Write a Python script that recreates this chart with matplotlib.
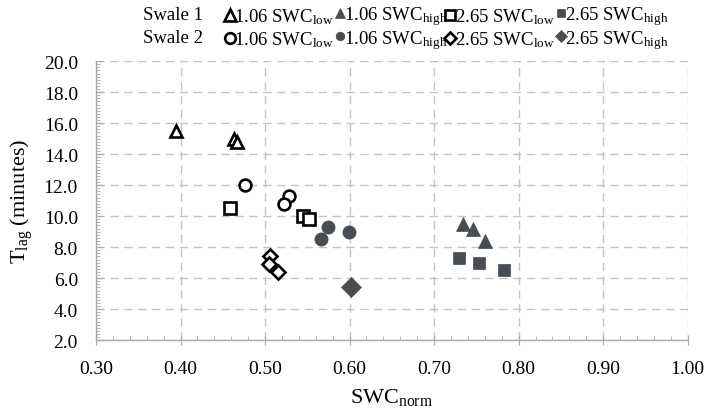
"""
Lag time against normalised soil water content for the two swales.
"""
from matplotlib import pyplot as plt
from matplotlib.ticker import MultipleLocator, FormatStrFormatter

plt.rcParams['font.family'] = ['Liberation Serif', 'DejaVu Serif']
plt.rcParams['mathtext.fontset'] = 'custom'
plt.rcParams['mathtext.rm'] = 'Liberation Serif'
plt.rcParams['mathtext.it'] = 'Liberation Serif:italic'

# swale 1
s1_low106_x = [0.395, 0.463, 0.467]
s1_low106_y = [15.5, 15.0, 14.8]
s1_high106_x = [0.734, 0.746, 0.760]
s1_high106_y = [9.5, 9.2, 8.4]
s1_low265_x = [0.459, 0.545, 0.552]
s1_low265_y = [10.5, 10.0, 9.8]
s1_high265_x = [0.729, 0.753, 0.783]
s1_high265_y = [7.3, 7.0, 6.5]
# swale 2
s2_low106_x = [0.476, 0.528, 0.523]
s2_low106_y = [12.0, 11.3, 10.8]
s2_high106_x = [0.575, 0.599, 0.566]
s2_high106_y = [9.3, 9.0, 8.5]
s2_low265_x = [0.506, 0.505, 0.515]
s2_low265_y = [7.4, 6.9, 6.4]
s2_high265_x = [0.602]
s2_high265_y = [5.4]

swales = ['Swale 1', 'Swale 2']
dark = '#474d54'
low = r'SWC$_{\mathrm{low}}$'
high = r'SWC$_{\mathrm{high}}$'

fig = plt.figure(figsize=(7.06, 4.14), dpi=100)
ax = fig.add_axes([0.136, 0.176, 0.838, 0.674])

open_kw = dict(ls='none', mfc='white', mec='black', mew=1.9)
fill_kw = dict(ls='none', mfc=dark, mec=dark, mew=0.5)

h1, = ax.plot(s1_low106_x, s1_low106_y, '^', ms=9, **open_kw)
h2, = ax.plot(s1_high106_x, s1_high106_y, '^', ms=10, **fill_kw)
h3, = ax.plot(s1_low265_x, s1_low265_y, 's', ms=8, **open_kw)
h4, = ax.plot(s1_high265_x, s1_high265_y, 's', ms=8.5, **fill_kw)
h5, = ax.plot(s2_low106_x, s2_low106_y, 'o', ms=8.5, **open_kw)
h6, = ax.plot(s2_high106_x, s2_high106_y, 'o', ms=9.5, **fill_kw)
h7, = ax.plot(s2_low265_x, s2_low265_y, 'D', ms=7, **open_kw)
h8, = ax.plot(s2_high265_x, s2_high265_y, 'D', ms=10, **fill_kw)

ax.set_xlim(0.30, 1.00)
ax.set_ylim(2.0, 20.0)
ax.xaxis.set_major_locator(MultipleLocator(0.1))
ax.xaxis.set_minor_locator(MultipleLocator(0.02))
ax.yaxis.set_major_locator(MultipleLocator(2.0))
ax.yaxis.set_minor_locator(MultipleLocator(0.2))
ax.xaxis.set_major_formatter(FormatStrFormatter('%.2f'))
ax.yaxis.set_major_formatter(FormatStrFormatter('%.1f'))

ax.grid(True, which='major', color='#c4c4c4', ls=(0, (6, 4)), lw=1.0)
ax.set_axisbelow(True)
for side in ['top', 'right']:
    ax.spines[side].set_visible(False)
for side in ['left', 'bottom']:
    ax.spines[side].set_color('#a9a9a9')
    ax.spines[side].set_linewidth(1.0)

ax.tick_params(axis='x', which='major', direction='inout', length=7, color='#a9a9a9',
               labelsize=14, pad=11)
ax.tick_params(axis='x', which='minor', direction='in', length=3, color='#a9a9a9')
ax.tick_params(axis='y', which='major', direction='in', length=5, color='#a9a9a9',
               labelsize=14, pad=13)
ax.tick_params(axis='y', which='minor', direction='in', length=3, color='#a9a9a9')

ax.set_xlabel(r'SWC$_{\mathrm{norm}}$', fontsize=16, labelpad=6)
ax.set_ylabel(r'T$_{\mathrm{lag}}$ (minutes)', fontsize=16, labelpad=6)

# legend: one row per swale, four keys per row (open keys bold, filled keys small)
rows_y = [0.959, 0.903]
cols_x = [0.320, 0.476, 0.632, 0.789]
scales = [0.9, 0.65, 0.9, 0.65]
rows = [[(h1, '1.06 ' + low), (h2, '1.06 ' + high), (h3, '2.65 ' + low), (h4, '2.65 ' + high)],
        [(h5, '1.06 ' + low), (h6, '1.06 ' + high), (h7, '2.65 ' + low), (h8, '2.65 ' + high)]]
for name, y, row in zip(swales, rows_y, rows):
    fig.text(0.2025, y + 0.004, name, fontsize=13.5, va='center', ha='left')
    for x, sc, (h, lab) in zip(cols_x, scales, row):
        fig.legend([h], [lab], loc='center left', bbox_to_anchor=(x, y),
                   frameon=False, fontsize=13.5, handlelength=0.45, handletextpad=0.0,
                   borderpad=0, borderaxespad=0, markerscale=sc)

fig.savefig('out.png', dpi=100)
